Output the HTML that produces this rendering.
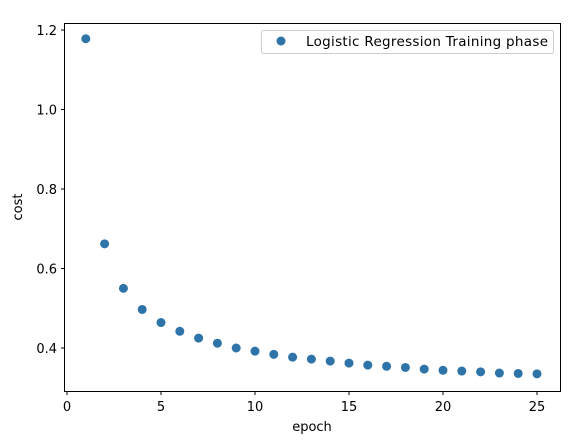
<!DOCTYPE html>
<html><head><meta charset="utf-8"><style>
body{margin:0;background:#fff;}
svg text{font-family:"DejaVu Sans","Liberation Sans",sans-serif;font-size:13px;fill:#000;}
</style></head><body>
<svg id="chart" width="574" height="441">
<rect x="64.5" y="23.5" width="496" height="368" fill="none" stroke="#000" stroke-width="1"/>
<g id="xt"></g><g id="yt"></g><g id="pts"></g>
<text x="312" y="431" text-anchor="middle">epoch</text>
<text transform="translate(22,207) rotate(-90)" text-anchor="middle">cost</text>
<g>
<rect x="261.5" y="30.5" width="292" height="23" rx="2" fill="#fff" stroke="#ccc"/>
<circle cx="281" cy="41" r="4.5" fill="#2e74a8"/>
<text x="306" y="46" style="font-size:13.5px" textLength="242">Logistic Regression Training phase</text>
</g>
</svg>
<script>
const epochs=[1,2,3,4,5,6,7,8,9,10,11,12,13,14,15,16,17,18,19,20,21,22,23,24,25];
const costs=[1.178,0.662,0.550,0.497,0.464,0.442,0.425,0.412,0.400,0.392,0.384,0.377,0.372,0.367,0.362,0.357,0.354,0.351,0.347,0.344,0.342,0.340,0.337,0.336,0.335];
const xTicks=[0,5,10,15,20,25];
const yTicks=[0.4,0.6,0.8,1.0,1.2];
const NS="http://www.w3.org/2000/svg";
function sx(v){return 67+v*18.8;}
function sy(v){return 348-(v-0.4)/0.2*79.5;}
const xt=document.getElementById('xt'),yt=document.getElementById('yt'),pts=document.getElementById('pts');
xTicks.forEach(t=>{
 const l=document.createElementNS(NS,'line');
 l.setAttribute('x1',sx(t));l.setAttribute('x2',sx(t));l.setAttribute('y1',391.5);l.setAttribute('y2',395);l.setAttribute('stroke','#000');
 
 
 xt.appendChild(l);
 const tx=document.createElementNS(NS,'text');
 tx.setAttribute('x',sx(t));tx.setAttribute('y',411);tx.setAttribute('text-anchor','middle');tx.textContent=t;
 
 
 xt.appendChild(tx);
});
yTicks.forEach(t=>{
 const l=document.createElementNS(NS,'line');
 l.setAttribute('x1',61);l.setAttribute('x2',64.5);l.setAttribute('y1',sy(t));l.setAttribute('y2',sy(t));l.setAttribute('stroke','#000');
 
 
 yt.appendChild(l);
 const tx=document.createElementNS(NS,'text');
 tx.setAttribute('x',57);tx.setAttribute('y',sy(t)+5);tx.setAttribute('text-anchor','end');tx.textContent=t.toFixed(1);
 
 
 yt.appendChild(tx);
});
epochs.forEach((e,i)=>{
 const c=document.createElementNS(NS,'circle');
 c.setAttribute('cx',sx(e));c.setAttribute('cy',sy(costs[i]));c.setAttribute('r',4.5);c.setAttribute('fill','#2e74a8');
 
 
 pts.appendChild(c);
});
</script>
</body></html>
